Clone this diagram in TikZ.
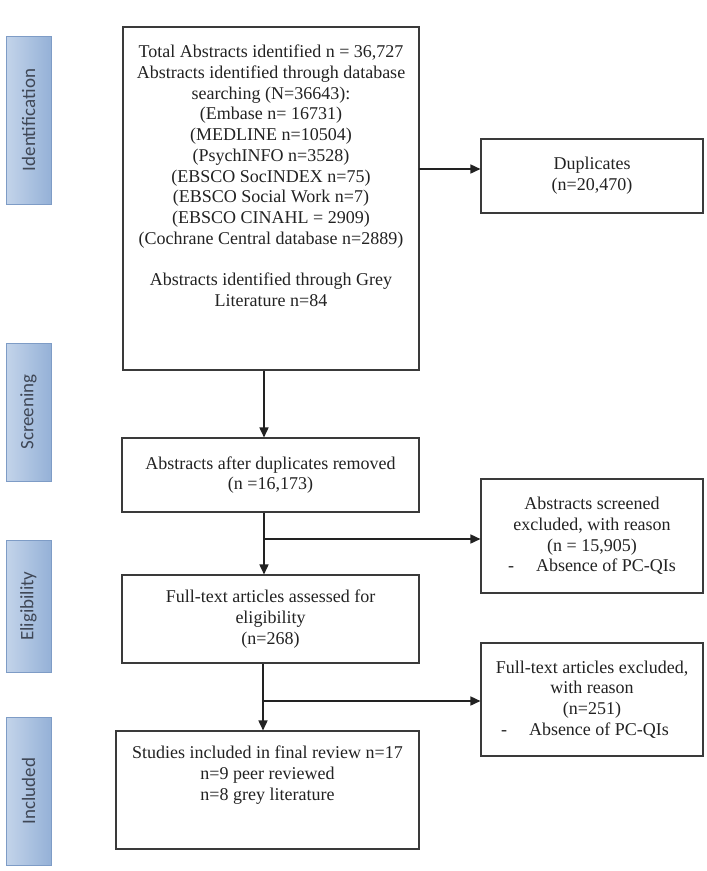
\documentclass[tikz,border=0pt]{standalone}
\usepackage{fontspec}
\setmainfont{Liberation Serif}
\newfontfamily\phasefont{Carlito}
\usetikzlibrary{arrows.meta}
\definecolor{boxline}{HTML}{3A3A3A}
\definecolor{txt}{HTML}{222222}
\definecolor{phaseL}{HTML}{C3D4EA}
\definecolor{phaseR}{HTML}{95B1D7}
\definecolor{phaseB}{HTML}{7E9CC6}
\definecolor{phasetxt}{HTML}{3F4756}
\begin{document}
\begin{tikzpicture}[x=1pt,y=-1pt,
  box/.style={draw=boxline, line width=1.1pt, rectangle, inner sep=0pt, align=center,
    font=\fontsize{18}{20.7}\selectfont, text=txt},
  boxtext/.style={inner sep=0pt, align=center, font=\fontsize{18}{20.7}\selectfont, text=txt},
  phase/.style={draw=phaseB, line width=0.8pt, left color=phaseL, right color=phaseR,
    minimum width=45pt, inner sep=0pt, font=\phasefont\fontsize{19}{22}\selectfont, text=phasetxt},
  arr/.style={draw=txt, line width=1.6pt, -{Triangle[length=10pt,width=9pt]}}]
\useasboundingbox (0,0) rectangle (707,871);

% phase labels
\node[phase, minimum height=168pt] (pid) at (28.5,120) {\rotatebox{90}{Identification}};
\node[phase, minimum height=138pt] (psc) at (28.5,412) {\rotatebox{90}{Screening}};
\node[phase, minimum height=132pt] (pel) at (28.5,606) {\rotatebox{90}{Eligibility}};
\node[phase, minimum height=148pt] (pin) at (28.5,791) {\rotatebox{90}{Included}};

% main boxes
\node[box, minimum width=296pt, minimum height=343pt] (b1) at (271,198.5) {};
\node[boxtext, anchor=north] (b1t) at (271,45) {Total Abstracts identified n = 36,727\\
Abstracts identified through database\\
searching (N=36643):\\
(Embase n= 16731)\\
(MEDLINE n=10504)\\
(PsychINFO n=3528)\\
(EBSCO SocINDEX n=75)\\
(EBSCO Social Work n=7)\\
(EBSCO CINAHL = 2909)\\
(Cochrane Central database n=2889)\\[20.7pt]
Abstracts identified through Grey\\
Literature n=84};

\node[box, minimum width=222pt, minimum height=74pt] (dup) at (592,176) {Duplicates\\(n=20,470)};

\node[box, minimum width=297pt, minimum height=74pt] (b2) at (270.5,475) {Abstracts after duplicates removed\\(n =16,173)};

\node[box, minimum width=222pt, minimum height=114pt] (ex1) at (592,536) {Abstracts screened\\
excluded, with reason\\
(n = 15,905)\\
-\hspace{22pt}Absence of PC-QIs};

\node[box, minimum width=297pt, minimum height=88pt] (b3) at (270.5,619) {Full-text articles assessed for\\
eligibility\\
(n=268)};

\node[box, minimum width=222pt, minimum height=113pt] (ex2) at (592,699.5) {Full-text articles excluded,\\
with reason\\
(n=251)\\
-\hspace{22pt}Absence of PC-QIs\hspace*{14pt}};

\node[box, minimum width=303pt, minimum height=118pt] (b4) at (267.5,790) {};
\node[boxtext, anchor=north] (b4t) at (267.5,746) {Studies included in final review n=17\\
n=9 peer reviewed\\
n=8 grey literature};

% connectors
\coordinate (colA) at (264,0);
\coordinate (colB) at (263,0);
\coordinate (j0) at (419,169);
\coordinate (j1) at (264,539);
\coordinate (j2) at (263,701);
\draw[arr] (j0) -- (j0 -| dup.west);
\draw[arr] (b1.south -| colA) -- (b2.north -| colA);
\draw[arr] (b2.south -| colA) -- (b3.north -| colA);
\draw[arr] (j1) -- (j1 -| ex1.west);
\draw[arr] (b3.south -| colB) -- (b4.north -| colB);
\draw[arr] (j2) -- (j2 -| ex2.west);
\end{tikzpicture}
\end{document}
